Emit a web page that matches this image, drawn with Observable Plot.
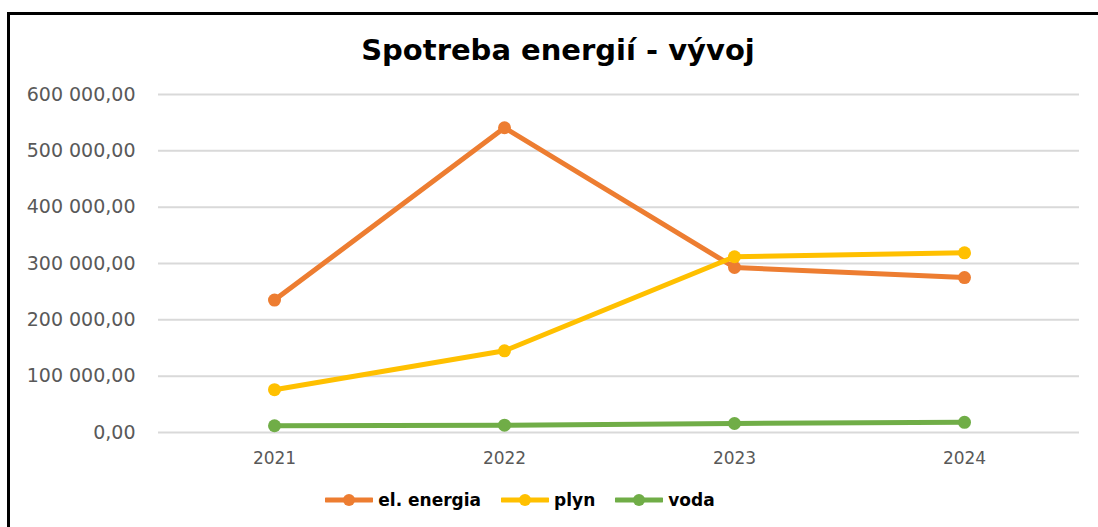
<!DOCTYPE html>
<html>
<head>
<meta charset="utf-8">
<script src="https://cdn.jsdelivr.net/npm/d3@7"></script>
<script src="https://cdn.jsdelivr.net/npm/@observablehq/plot@0.6"></script>
<style>
  html, body { margin: 0; padding: 0; background: #fff; width: 1098px; height: 527px; overflow: hidden; }
  #frame { position: absolute; left: 7px; top: 12px; width: 1100px; height: 600px;
           border-top: 3px solid #000; border-left: 3px solid #000; box-sizing: border-box; }
  #title { position: absolute; left: 0; width: 1116px; top: 32px; text-align: center;
           font-family: "DejaVu Sans", sans-serif; font-weight: bold; font-size: 29px; color: #000; line-height: 36px; }
  #chart { position: absolute; left: 0; top: 80px; }
  #legend { position: absolute; left: -29px; top: 487px; width: 1098px; display: flex; justify-content: center;
            font-family: "DejaVu Sans", sans-serif; font-weight: bold; font-size: 17px; color: #000; }
  .item { display: flex; align-items: center; margin: 0 10px; height: 26px; }
  .item svg { margin-right: 5px; }
</style>
</head>
<body>
<div id="frame"></div>
<div id="title">Spotreba energií - vývoj</div>
<div id="chart"></div>
<div id="legend"></div>
<script>
const years = ["2021", "2022", "2023", "2024"];
const seriesNames = ["el. energia", "plyn", "voda"];
const elEnergia = [235000, 541000, 293000, 275000];
const plyn = [76000, 145000, 312000, 319000];
const voda = [12000, 13000, 16000, 18000];
const seriesColors = ["#ED7D31", "#FFC000", "#70AD47"];
const yTicks = [0, 100000, 200000, 300000, 400000, 500000, 600000];

const seriesValues = [elEnergia, plyn, voda];
const data = [];
seriesNames.forEach((name, i) => {
  years.forEach((yr, j) => data.push({series: name, year: yr, value: seriesValues[i][j]}));
});

const locale = d3.formatLocale({decimal: ",", thousands: " ", grouping: [3], currency: ["", ""]});
const fmt = locale.format(",.2f");

const chart = Plot.plot({
  width: 1098,
  height: 390,
  marginLeft: 158,
  marginRight: 19,
  marginTop: 14,
  marginBottom: 38,
  style: {fontFamily: "DejaVu Sans, sans-serif", fontSize: "17px", color: "#595959", background: "transparent", overflow: "visible"},
  x: {type: "point", domain: years, padding: 0.5, label: null},
  y: {domain: [0, 600000], label: null},
  color: {domain: seriesNames, range: seriesColors},
  marks: [
    Plot.gridY(yTicks, {stroke: "#D9D9D9", strokeOpacity: 1, strokeWidth: 2}),
    Plot.axisY(yTicks, {tickFormat: fmt, tickSize: 0, tickPadding: 23, label: null, fontSize: 19}),
    Plot.axisX({tickSize: 0, tickPadding: 19, label: null, fontSize: 17}),
    ...seriesNames.map(name => Plot.line(data.filter(d => d.series === name),
      {x: "year", y: "value", stroke: "series", strokeWidth: 5, strokeLinejoin: "round"})),
    ...seriesNames.map(name => Plot.dot(data.filter(d => d.series === name),
      {x: "year", y: "value", fill: "series", r: 6.5}))
  ]
});
document.getElementById("chart").appendChild(chart);

const legend = document.getElementById("legend");
seriesNames.forEach((name, i) => {
  const item = document.createElement("div");
  item.className = "item";
  item.innerHTML = `<svg width="48" height="14"><line x1="1" y1="7" x2="47" y2="7" stroke="${seriesColors[i]}" stroke-width="5" stroke-linecap="round"/><circle cx="24" cy="7" r="6" fill="${seriesColors[i]}"/></svg><span>${name}</span>`;
  legend.appendChild(item);
});
</script>
</body>
</html>
